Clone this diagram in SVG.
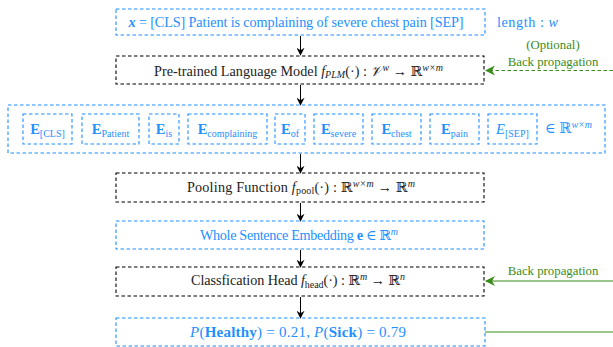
<svg xmlns="http://www.w3.org/2000/svg" width="613" height="347" viewBox="0 0 613 347">
<style>
.bb{fill:none;stroke:#1E90FF;stroke-width:1.1;stroke-dasharray:3.5 2.5}
.kb{fill:none;stroke:#000;stroke-width:1.1;stroke-dasharray:3.5 2.5}
.t{font-family:"Liberation Serif","DejaVu Serif",serif;font-size:14.2px;text-anchor:middle}
.bl{fill:#1E90FF}
.gr{fill:#3b8b1a;font-size:12.8px}
.k{fill:#222}
.s{font-size:10px}
.e{font-family:"Liberation Serif","DejaVu Serif",serif;font-size:14.5px;text-anchor:middle;fill:#1E90FF}
.ar{stroke:#000;stroke-width:1;fill:none}
.g{stroke:#3b8b1a;stroke-width:1.2;fill:none}
</style>
<defs>
<marker id="ah" viewBox="0 0 10 10" refX="9" refY="5" markerWidth="8" markerHeight="8" markerUnits="userSpaceOnUse" orient="auto">
<path d="M0,0 L10,5 L0,10 L3,5 Z" fill="#000"/>
</marker>
<marker id="gh" viewBox="0 0 10 10" refX="9" refY="5" markerWidth="10" markerHeight="10" markerUnits="userSpaceOnUse" orient="auto">
<path d="M0,0 L10,5 L0,10 L3,5 Z" fill="#3b8b1a"/>
</marker>
</defs>

<g id="connectors">
<line class="ar" x1="300.5" y1="36" x2="300.5" y2="55" marker-end="url(#ah)"/>
<line class="ar" x1="300.5" y1="85" x2="300.5" y2="105" marker-end="url(#ah)"/>
<line class="ar" x1="300.5" y1="154" x2="300.5" y2="173" marker-end="url(#ah)"/>
<line class="ar" x1="300.5" y1="203" x2="300.5" y2="221" marker-end="url(#ah)"/>
<line class="ar" x1="300.5" y1="250" x2="300.5" y2="267" marker-end="url(#ah)"/>
<line class="ar" x1="300.5" y1="297" x2="300.5" y2="318" marker-end="url(#ah)"/>
<line class="g" x1="613" y1="70.5" x2="486" y2="70.5" stroke-dasharray="3.5 2.5" marker-end="url(#gh)"/>
<line class="g" x1="613" y1="281" x2="486" y2="281" marker-end="url(#gh)"/>
<line class="g" x1="485" y1="332" x2="613" y2="332"/>
<text class="t gr" x="553" y="49">(Optional)</text>
<text class="t gr" x="553" y="66">Back propagation</text>
<text class="t gr" x="553" y="275">Back propagation</text>
</g>

<g id="input">
<rect class="bb" x="116" y="9" width="369" height="26"/>
<text class="t bl" x="296" y="26.5" textLength="335"><tspan font-weight="bold" font-style="italic">x</tspan> = [CLS] Patient is complaining of severe chest pain [SEP]</text>
<text class="t bl" x="497" y="26.5" style="text-anchor:start" textLength="61">length : <tspan font-style="italic">w</tspan></text>
</g>

<g id="plm">
<rect class="kb" x="116" y="56" width="368" height="28"/>
<text class="t k" x="298.5" y="75.5" textLength="289">Pre-trained Language Model <tspan font-style="italic">f</tspan><tspan class="s" font-style="italic" dy="2.5">PLM</tspan><tspan dy="-2.5">(·) : </tspan><tspan font-style="italic">𝒱</tspan><tspan class="s" font-style="italic" dy="-5">w</tspan><tspan dy="5"> → ℝ</tspan><tspan class="s" font-style="italic" dy="-5">w×m</tspan></text>
</g>

<g id="embeddings">
<rect class="bb" x="8" y="105" width="597" height="48"/>
<g id="e-cls"><rect class="bb" x="23" y="114" width="49" height="30"/><text class="e" x="47.5" y="134"><tspan font-weight="bold">E</tspan><tspan class="s" dy="2.5">[CLS]</tspan></text></g>
<g id="e-patient"><rect class="bb" x="82" y="114" width="57" height="30"/><text class="e" x="110.5" y="134"><tspan font-weight="bold">E</tspan><tspan class="s" dy="2.5">Patient</tspan></text></g>
<g id="e-is"><rect class="bb" x="149" y="114" width="30" height="30"/><text class="e" x="164" y="134"><tspan font-weight="bold">E</tspan><tspan class="s" dy="2.5">is</tspan></text></g>
<g id="e-complaining"><rect class="bb" x="188" y="114" width="79" height="30"/><text class="e" x="227.5" y="134"><tspan font-weight="bold">E</tspan><tspan class="s" dy="2.5">complaining</tspan></text></g>
<g id="e-of"><rect class="bb" x="275" y="114" width="30" height="30"/><text class="e" x="290" y="134"><tspan font-weight="bold">E</tspan><tspan class="s" dy="2.5">of</tspan></text></g>
<g id="e-severe"><rect class="bb" x="314" y="114" width="49" height="30"/><text class="e" x="338.5" y="134"><tspan font-weight="bold">E</tspan><tspan class="s" dy="2.5">severe</tspan></text></g>
<g id="e-chest"><rect class="bb" x="372" y="114" width="49" height="30"/><text class="e" x="396.5" y="134"><tspan font-weight="bold">E</tspan><tspan class="s" dy="2.5">chest</tspan></text></g>
<g id="e-pain"><rect class="bb" x="430" y="114" width="49" height="30"/><text class="e" x="454.5" y="134"><tspan font-weight="bold">E</tspan><tspan class="s" dy="2.5">pain</tspan></text></g>
<g id="e-sep"><rect class="bb" x="488" y="114" width="49" height="30"/><text class="e" x="512.5" y="134"><tspan font-style="italic">E</tspan><tspan class="s" dy="2.5">[SEP]</tspan></text></g>
<text class="e" x="545" y="133" style="text-anchor:start">∈ ℝ<tspan class="s" font-style="italic" dy="-5">w×m</tspan></text>
</g>

<g id="pooling">
<rect class="kb" x="116" y="173" width="368" height="29"/>
<text class="t k" x="301" y="191.5" textLength="228">Pooling Function <tspan font-style="italic">f</tspan><tspan class="s" dy="2.5">pool</tspan><tspan dy="-2.5">(·) : ℝ</tspan><tspan class="s" font-style="italic" dy="-5">w×m</tspan><tspan dy="5"> → ℝ</tspan><tspan class="s" font-style="italic" dy="-5">m</tspan></text>
</g>

<g id="sentence">
<rect class="bb" x="116" y="221" width="368" height="28"/>
<text class="t bl" x="299" y="240" textLength="198">Whole Sentence Embedding <tspan font-weight="bold">e</tspan> ∈ ℝ<tspan class="s" font-style="italic" dy="-5">m</tspan></text>
</g>

<g id="head">
<rect class="kb" x="116" y="267" width="368" height="29"/>
<text class="t k" x="298" y="285" textLength="214">Classfication Head <tspan font-style="italic">f</tspan><tspan class="s" dy="2.5">head</tspan><tspan dy="-2.5">(·) : ℝ</tspan><tspan class="s" font-style="italic" dy="-5">m</tspan><tspan dy="5"> → ℝ</tspan><tspan class="s" font-style="italic" dy="-5">n</tspan></text>
</g>

<g id="output">
<rect class="bb" x="116" y="318" width="369" height="28"/>
<text class="t bl" x="298" y="337" style="font-size:15px" textLength="216"><tspan font-style="italic">P</tspan>(<tspan font-weight="bold">Healthy</tspan>) = 0.21, <tspan font-style="italic">P</tspan>(<tspan font-weight="bold">Sick</tspan>) = 0.79</text>
</g>
</svg>
